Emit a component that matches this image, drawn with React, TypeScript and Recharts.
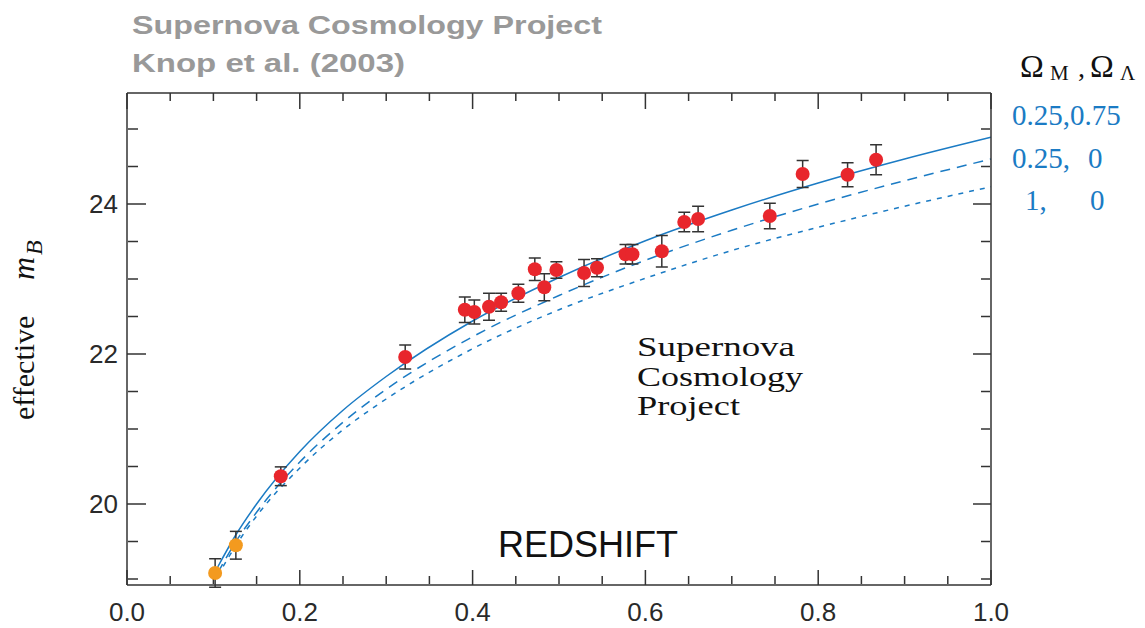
import {
  ComposedChart,
  Line,
  Scatter,
  ErrorBar,
  XAxis,
  YAxis,
  ReferenceLine,
} from "recharts";

// theory curves
const curveZ = [0.105, 0.125, 0.15, 0.2, 0.25, 0.3, 0.4, 0.5, 0.6, 0.7, 0.8, 0.9, 1.0];
const flatLambda = [19.16, 19.57, 20.0, 20.7, 21.25, 21.7, 22.44, 23.02, 23.51, 23.92, 24.28, 24.6, 24.89];
const openLow = [19.08, 19.48, 19.89, 20.56, 21.09, 21.53, 22.23, 22.78, 23.25, 23.65, 24.0, 24.31, 24.6];
const flatMatter = [19.04, 19.43, 19.84, 20.48, 20.99, 21.4, 22.07, 22.59, 23.01, 23.38, 23.69, 23.97, 24.23];

// low-redshift (orange) supernovae
const lowZ = [0.102, 0.126];
const lowMag = [19.08, 19.45];
const lowErr = [0.19, 0.185];

// SCP high-redshift (red) supernovae
const highZ = [
  0.178, 0.322, 0.391, 0.402, 0.419, 0.433, 0.453, 0.472, 0.483, 0.497, 0.529,
  0.544, 0.577, 0.585, 0.619, 0.645, 0.661, 0.744, 0.782, 0.834, 0.867,
];
const highMag = [
  20.37, 21.96, 22.59, 22.56, 22.63, 22.69, 22.81, 23.13, 22.89, 23.12, 23.08,
  23.15, 23.33, 23.33, 23.37, 23.76, 23.8, 23.84, 24.4, 24.39, 24.59,
];
const highErr = [
  0.125, 0.16, 0.17, 0.16, 0.18, 0.12, 0.12, 0.15, 0.18, 0.11, 0.18, 0.12,
  0.13, 0.13, 0.21, 0.13, 0.17, 0.17, 0.18, 0.16, 0.2,
];

const xTicks = [0, 0.2, 0.4, 0.6, 0.8, 1.0];
const xMinor = [0.05, 0.1, 0.15, 0.25, 0.3, 0.35, 0.45, 0.5, 0.55, 0.65, 0.7, 0.75, 0.85, 0.9, 0.95];
const yTicks = [20, 22, 24];
const yMinor = [19, 19.5, 20.5, 21, 21.5, 22.5, 23, 23.5, 24.5, 25];

const toCurve = (vals: number[]) => curveZ.map((z, i) => ({ z, m: vals[i] }));
const toPoints = (zs: number[], ms: number[], es: number[]) =>
  zs.map((z, i) => ({ z, m: ms[i], err: es[i] }));

const AXIS = "#333";
const BLUE = "#1b7bc4";
const SANS = "'Liberation Sans', Arial, Helvetica, sans-serif";
const SERIF = "'Liberation Serif', 'Times New Roman', serif";

const dot = (color: string) => (props: any) =>
  <circle cx={props.cx} cy={props.cy} r={7} fill={color} />;

const noLabel = () => null;

const App = () => {
  const xDomain: [number, number] = [0, 1];
  const yDomain: [number, number] = [18.92, 25.48];
  const yTop = yDomain[1];
  const tickFont = { fontSize: 26, fill: "#2a2a2a", fontFamily: SANS };
  // tick marks only, 1px axes; labels come from the main axes
  const markX = { dataKey: "z", type: "number" as const, domain: xDomain, allowDataOverflow: true,
    interval: 0 as const, height: 1, tick: noLabel, stroke: AXIS, strokeWidth: 1.5 };
  const markY = { type: "number" as const, domain: yDomain, allowDataOverflow: true, interval: 0 as const,
    mirror: true, width: 1, tick: noLabel, stroke: AXIS, strokeWidth: 1.5 };

  return (
    <div style={{ position: "absolute", left: 0, top: 0, width: 1145, height: 628, background: "#fff" }}>
      <ComposedChart
        width={1145}
        height={628}
        margin={{ top: 92, right: 154, left: 67, bottom: 0 }}
      >
        <XAxis
          xAxisId="x"
          dataKey="z"
          type="number"
          domain={xDomain}
          allowDataOverflow
          ticks={xTicks}
          interval={0}
          tickFormatter={(v) => v.toFixed(1)}
          tickLine={false}
          tickSize={0}
          tickMargin={18}
          height={43}
          stroke={AXIS}
          strokeWidth={1.5}
          tick={tickFont}
        />
        <XAxis xAxisId="xb1" {...markX} mirror ticks={xTicks} tickSize={15} axisLine={false} />
        <XAxis xAxisId="xb2" {...markX} mirror ticks={xMinor} tickSize={8} axisLine={false} />
        {/* top frame line */}
        <XAxis xAxisId="xt1" orientation="top" {...markX} ticks={xTicks} tickLine={false} />

        <YAxis
          yAxisId="y"
          type="number"
          domain={yDomain}
          allowDataOverflow
          ticks={yTicks}
          interval={0}
          tickLine={false}
          tickSize={0}
          tickMargin={9}
          width={60}
          stroke={AXIS}
          strokeWidth={1.5}
          tick={tickFont}
        />
        <YAxis yAxisId="yl1" {...markY} ticks={yTicks} tickSize={19} axisLine={false} />
        <YAxis yAxisId="yl2" {...markY} ticks={yMinor} tickSize={10} axisLine={false} />
        <YAxis yAxisId="yr1" orientation="right" {...markY} ticks={yTicks} tickSize={18} />
        <YAxis yAxisId="yr2" orientation="right" {...markY} ticks={yMinor} tickSize={9} axisLine={false} />

        {/* inward ticks hanging from the top frame (16px major, 8px minor at 75px per mag) */}
        {xTicks.map((t) => (
          <ReferenceLine key={`tj${t}`} xAxisId="x" yAxisId="y" ifOverflow="visible"
            segment={[{ x: t, y: yTop }, { x: t, y: yTop - 16 / 75 }]} stroke={AXIS} strokeWidth={1.5} />
        ))}
        {xMinor.map((t) => (
          <ReferenceLine key={`tn${t}`} xAxisId="x" yAxisId="y" ifOverflow="visible"
            segment={[{ x: t, y: yTop }, { x: t, y: yTop - 8 / 75 }]} stroke={AXIS} strokeWidth={1.5} />
        ))}

        <Line xAxisId="x" yAxisId="y" data={toCurve(flatLambda)} dataKey="m" type="monotone"
          stroke={BLUE} strokeWidth={1.5} dot={false} activeDot={false} isAnimationActive={false} />
        <Line xAxisId="x" yAxisId="y" data={toCurve(openLow)} dataKey="m" type="monotone"
          stroke={BLUE} strokeWidth={1.5} strokeDasharray="10 7" dot={false} activeDot={false} isAnimationActive={false} />
        <Line xAxisId="x" yAxisId="y" data={toCurve(flatMatter)} dataKey="m" type="monotone"
          stroke={BLUE} strokeWidth={1.5} strokeDasharray="5 6" dot={false} activeDot={false} isAnimationActive={false} />

        <Scatter xAxisId="x" yAxisId="y" data={toPoints(lowZ, lowMag, lowErr)} dataKey="m"
          shape={dot("#f39a1f")} isAnimationActive={false}>
          <ErrorBar dataKey="err" direction="y" width={6} stroke="#333" strokeWidth={1.5} />
        </Scatter>
        <Scatter xAxisId="x" yAxisId="y" data={toPoints(highZ, highMag, highErr)} dataKey="m"
          shape={dot("#e8262c")} isAnimationActive={false}>
          <ErrorBar dataKey="err" direction="y" width={6} stroke="#333" strokeWidth={1.5} />
        </Scatter>
      </ComposedChart>

      <svg width={1145} height={628} style={{ position: "absolute", left: 0, top: 0, pointerEvents: "none" }}>
        <g fill="#999" fontFamily={SANS} fontWeight="bold" fontSize={26}>
          <text x={132} y={34} textLength={470} lengthAdjust="spacingAndGlyphs">Supernova Cosmology Project</text>
          <text x={132} y={72} textLength={273} lengthAdjust="spacingAndGlyphs">Knop et al. (2003)</text>
        </g>

        <g fill="#111" fontFamily={SERIF}>
          <text x={1020} y={77} fontSize={32}>Ω</text>
          <text x={1050} y={80} fontSize={21}>M</text>
          <text x={1078} y={77} fontSize={28}>,</text>
          <text x={1090} y={77} fontSize={32}>Ω</text>
          <text x={1120} y={80} fontSize={21}>Λ</text>
        </g>
        <g fill={BLUE} fontFamily={SERIF} fontSize={29}>
          <text x={1012} y={125}>0.25,0.75</text>
          <text x={1012} y={168}>0.25,</text>
          <text x={1088} y={168}>0</text>
          <text x={1025} y={210}>1,</text>
          <text x={1090} y={210}>0</text>
        </g>

        <g fill="#111" fontFamily={SERIF} fontSize={27}>
          <text x={637} y={356} textLength={158} lengthAdjust="spacingAndGlyphs">Supernova</text>
          <text x={637} y={386} textLength={166} lengthAdjust="spacingAndGlyphs">Cosmology</text>
          <text x={637} y={415} textLength={103} lengthAdjust="spacingAndGlyphs">Project</text>
        </g>

        <text x={498} y={557} fill="#111" fontFamily={SANS} fontSize={36}>REDSHIFT</text>

        <text x={34} y={420} transform="rotate(-90 34 420)" fill="#111" fontFamily={SERIF} fontSize={30}>
          effective
          <tspan x={174} fontStyle="italic" fontSize={32}>m</tspan>
          <tspan x={199} dy={8} fontStyle="italic" fontSize={24}>B</tspan>
        </text>
      </svg>
    </div>
  );
};

export default App;
